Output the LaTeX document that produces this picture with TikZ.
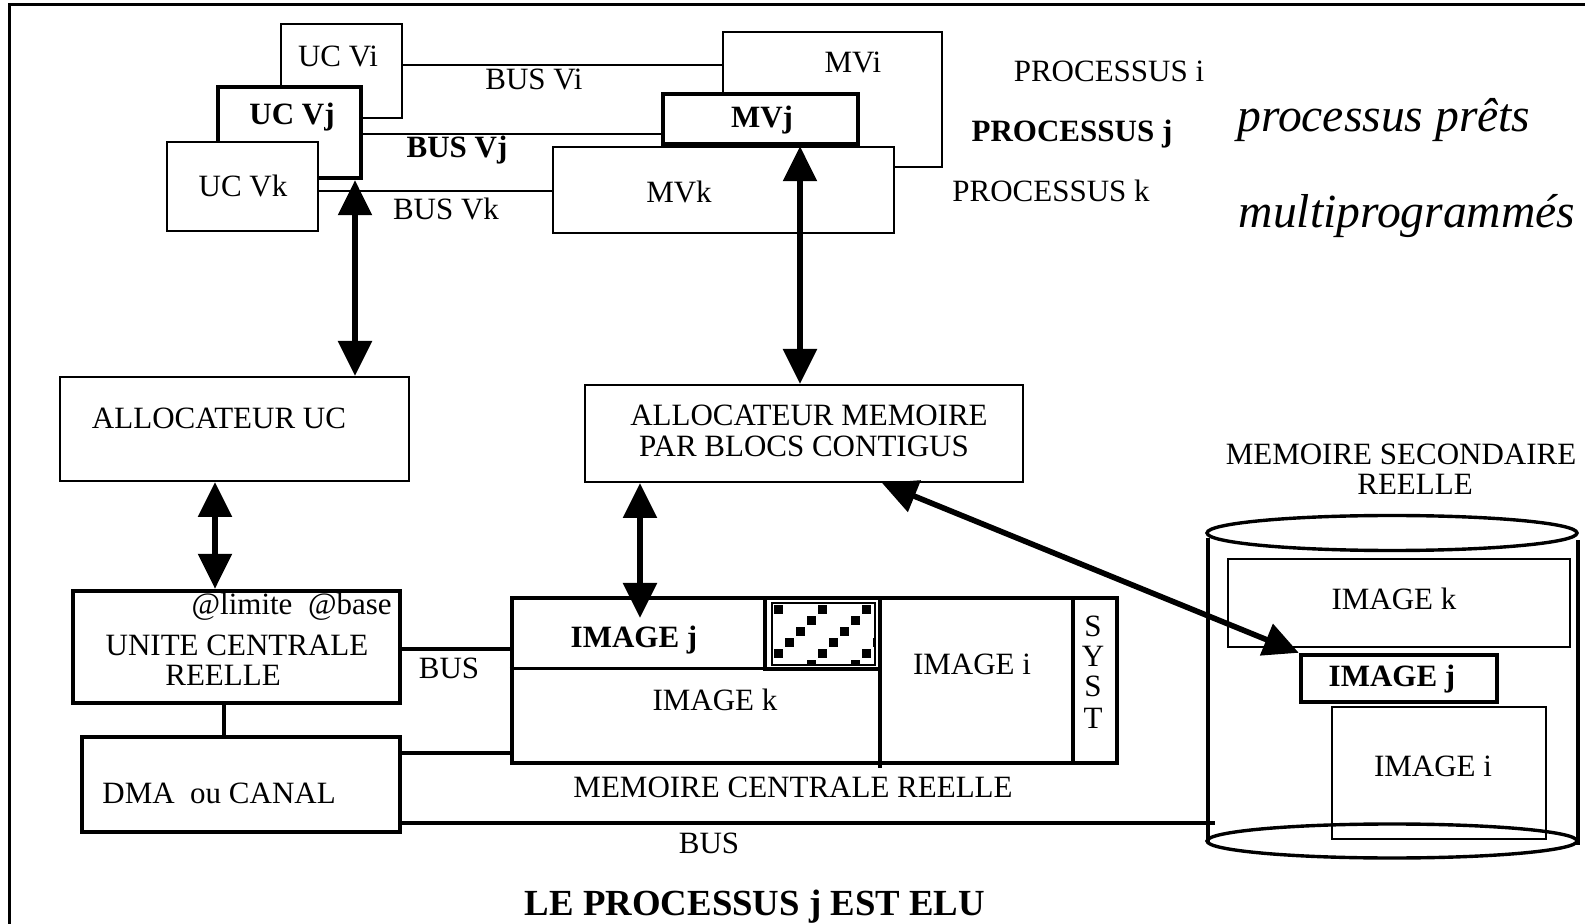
\documentclass[tikz,border=0pt]{standalone}
\usepackage{fontspec}
\setmainfont{Liberation Serif}
\usetikzlibrary{arrows.meta,fit,calc}
\begin{document}
\begin{tikzpicture}[x=0.5pt,y=-0.5pt,
  thinbox/.style={draw,line width=1pt,fill=white,inner sep=0pt},
  thickbox/.style={draw,line width=2.2pt,fill=white,inner sep=0pt},
  bus/.style={line width=1pt},
  busthick/.style={line width=2.2pt},
  lbl/.style={font=\fontsize{15.5}{18}\selectfont,anchor=base,inner sep=0pt},
  blbl/.style={lbl,font=\fontsize{15.5}{18}\selectfont\bfseries},
  ilbl/.style={lbl,font=\fontsize{23.8}{28}\selectfont\itshape},
  bigarrow/.style={line width=2.8pt,{Triangle[width=16.5pt,length=17.5pt]}-{Triangle[width=16.5pt,length=17.5pt]}},
]
\useasboundingbox (0,0) rectangle (1585,924);
% frame
\draw[line width=1.5pt] (9.7,924) -- (9.7,4.7) -- (1585,4.7);

% virtual CPUs
\node[thinbox,fit={(281,24)(402,118)}] (uci) {};
\node[thickbox,fit={(218,87)(361,178)}] (ucj) {};
\node[thinbox,fit={(167,142)(318,231)}] (uck) {};
\node[lbl] at (338,67) {UC Vi};
\node[blbl] at (292,125) {UC Vj};
\node[lbl] at (243,197) {UC Vk};

% virtual memories
\node[thinbox,fit={(723,32)(942,167)}] (mvi) {};
\node[thickbox,fit={(663,94)(858,144)}] (mvj) {};
\node[thinbox,fit={(553,147)(894,233)}] (mvk) {};
\node[lbl] at (853,73) {MVi};
\node[blbl] at (762,128) {MVj};
\node[lbl] at (679,203) {MVk};

% virtual buses
\draw[bus] (uci.east |- 0,65) -- (mvi.west |- 0,65);
\draw[bus] (ucj.east |- 0,134) -- (mvj.west |- 0,134);
\draw[bus] (uck.east |- 0,191) -- (mvk.west |- 0,191);
\node[lbl] at (534,90) {BUS Vi};
\node[blbl] at (457,158) {BUS Vj};
\node[lbl] at (446,220) {BUS Vk};

% processus labels
\node[lbl] at (1109,82) {PROCESSUS i};
\node[blbl] at (1072,142) {PROCESSUS j};
\node[lbl] at (1051,202) {PROCESSUS k};
\node[ilbl] at (1384,132) {processus prêts};
\node[ilbl] at (1407,228) {multiprogrammés};

% allocators
\node[thinbox,fit={(60,377)(409,481)}] (allocuc) {};
\node[lbl] at (219,429) {ALLOCATEUR UC};
\node[thinbox,fit={(585,385)(1023,482)}] (allocmem) {};
\node[lbl] at (809,426) {ALLOCATEUR MEMOIRE};
\node[lbl] at (804,457) {PAR BLOCS CONTIGUS};

% real CPU and DMA
\node[thickbox,fit={(73,591)(400,703)}] (ucr) {};
\node[lbl,anchor=base east] at (392,615) {@limite\ \ @base};
\node[lbl] at (237,655) {UNITE CENTRALE};
\node[lbl] at (223,685) {REELLE};
\node[thickbox,fit={(82,737)(400,832)}] (dma) {};
\node[lbl,anchor=base west] at (102,803) {DMA\ \ ou CANAL};

% central memory
\node[thickbox,fit={(512,598)(1117,763)}] (mem) {};
\draw[line width=1.5pt] (mem.west |- 0,669) -- (880,669);
\draw[line width=2.2pt] (880,598) -- (880,768);
\draw[line width=2.2pt] (1073,598) -- (1073,763);
\node[draw,line width=2.2pt,inner sep=0pt,fit={(765,598)(880,669)}] (hatch) {};
\begin{scope}
  \clip (772,603) rectangle (875,665);
  \foreach \i in {-1,...,10}{\foreach \j in {0,...,5}{%
    \pgfmathtruncatemacro\r{mod(\i+\j+8,4)}%
    \ifnum\r=0 \fill (774+11*\i,605+11*\j) rectangle ++(9,9);\fi}}
\end{scope}
\draw[line width=0.8pt] (772,603) rectangle (875,665);
\node[blbl] at (634,647) {IMAGE j};
\node[lbl] at (715,711) {IMAGE k};
\node[lbl] at (972,675) {IMAGE i};
\node[lbl] at (1093,637) {S};
\node[lbl] at (1093,667) {Y};
\node[lbl] at (1093,697) {S};
\node[lbl] at (1093,728) {T};
\node[lbl] at (793,797) {MEMOIRE CENTRALE REELLE};

% buses
\coordinate (busend) at (1215,823);
\draw[busthick] (ucr.east |- 0,649) -- (mem.west |- 0,649);
\draw[busthick] (dma.east |- 0,753) -- (mem.west |- 0,753);
\draw[busthick] (ucr.south -| 224,0) -- (dma.north -| 224,0);
\draw[busthick] (dma.east |- busend) -- (busend);
\node[lbl] at (449,678) {BUS};
\node[lbl] at (709,853) {BUS};

% secondary memory (disk)
\node[lbl] at (1401,465) {MEMOIRE SECONDAIRE};
\node[lbl] at (1415,495) {REELLE};
\draw[line width=2.2pt] (1208,538) -- (1208,843);
\draw[line width=2.2pt] (1578,540) -- (1578,845);
\node[thinbox,fit={(1228,559)(1570,647)}] (dskk) {};
\node[thinbox,fit={(1332,707)(1546,839)}] (dski) {};
\node[thickbox,fit={(1301,655)(1497,702)}] (dskj) {};
\draw[line width=1.7pt] (1392,533) ellipse [x radius=185, y radius=17.5];
\draw[line width=1.7pt] (1392,841) ellipse [x radius=185, y radius=17];
\node[lbl] at (1394,610) {IMAGE k};
\node[blbl] at (1392,687) {IMAGE j};
\node[lbl] at (1433,776) {IMAGE i};

% arrows
\coordinate (imgjtip) at (640,618);
\draw[bigarrow] (ucj.south -| 355,0) -- (allocuc.north -| 355,0);
\draw[bigarrow] (mvj.south -| 800,0) -- (allocmem.north -| 800,0);
\draw[bigarrow] (allocuc.south -| 215,0) -- (ucr.north -| 215,0);
\draw[bigarrow] (allocmem.south -| 640,0) -- (imgjtip);
\draw[bigarrow] (allocmem.south -| 882,0) -- (dskj.north west);

% title
\node[lbl,font=\fontsize{18.4}{22}\selectfont\bfseries] at (755,915) {LE PROCESSUS j EST ELU};
\end{tikzpicture}
\end{document}
